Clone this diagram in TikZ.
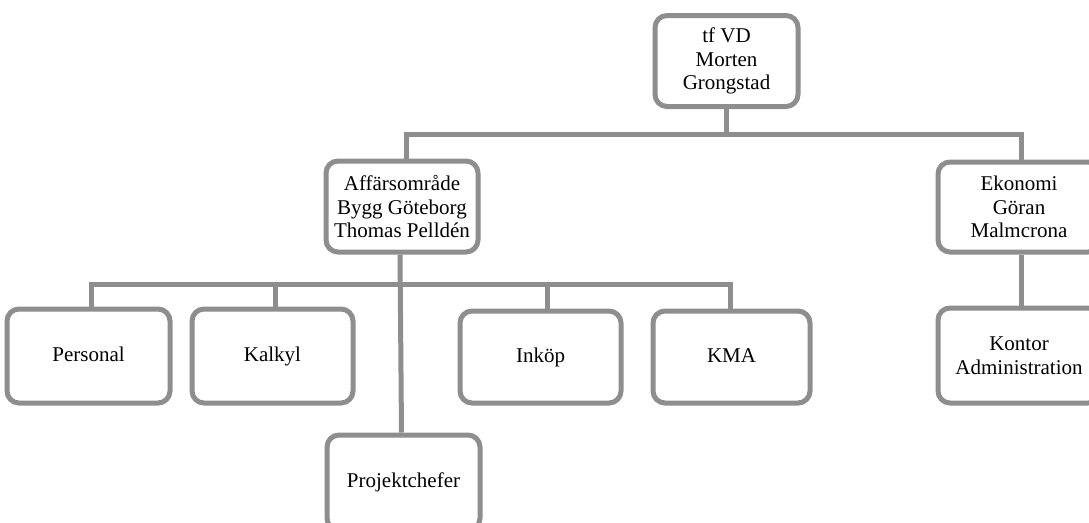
\documentclass[tikz,border=0pt]{standalone}
\usepackage{fontspec}
\setmainfont{Liberation Serif}
\usetikzlibrary{calc}
\definecolor{linegray}{RGB}{142,142,142}
\tikzset{
  orgbox/.style={draw=linegray, fill=white, line width=3.75pt, rounded corners=9pt,
    align=center, inner sep=2pt, font=\fontsize{15.75}{17.6}\selectfont},
  oneline/.style={orgbox, text height=11pt, text depth=3.5pt},
  link/.style={draw=linegray, line width=3.75pt, line join=miter},
}
\begin{document}
\begin{tikzpicture}[x=0.75pt, y=-0.75pt]
\useasboundingbox (0,0) rectangle (1089,522);
% boxes
\node[orgbox, minimum width=143*0.75pt, minimum height=91*0.75pt] (vd) at (726.5,61) {tf VD\\Morten\\Grongstad};
\node[orgbox, minimum width=152*0.75pt, minimum height=91*0.75pt] (aff) at (402,206.5) {Affärsområde\\Bygg Göteborg\\Thomas Pelldén};
\node[orgbox, minimum width=162*0.75pt, minimum height=90*0.75pt] (eko) at (1019,207) {Ekonomi\\Göran\\Malmcrona};
\node[orgbox, minimum width=162*0.75pt, minimum height=95*0.75pt] (kontor) at (1019,355.5) {Kontor\\Administration};
\node[oneline, minimum width=163*0.75pt, minimum height=94*0.75pt] (personal) at (88.5,356) {Personal};
\node[oneline, minimum width=161*0.75pt, minimum height=94*0.75pt] (kalkyl) at (272.5,356) {Kalkyl};
\node[oneline, minimum width=161*0.75pt, minimum height=92*0.75pt] (inkop) at (540.5,357) {Inköp};
\node[oneline, minimum width=157*0.75pt, minimum height=92*0.75pt] (kma) at (731.5,357) {KMA};
\node[oneline, minimum width=153*0.75pt, minimum height=95*0.75pt] (proj) at (403.5,482.5) {Projektchefer};
% bus levels
\coordinate (busA) at (0,134);
\coordinate (busB) at (0,284);
% top level
\draw[link] (vd.south) -- (vd.south |- busA);
\draw[link] ([xshift=3pt]aff.north) -- ([xshift=3pt]aff.north |- busA)
  -- ([xshift=1.5pt]eko.north |- busA) -- ([xshift=1.5pt]eko.north);
\draw[link] ([xshift=1.5pt]eko.south) -- ([xshift=1.5pt]kontor.north);
% second level
\draw[link] ([xshift=-1.5pt]aff.south) -- ([xshift=-1.5pt]proj.north);
\draw[link] ([xshift=1.9pt]personal.north) -- ([xshift=1.9pt]personal.north |- busB)
  -- ([xshift=-0.4pt]kma.north |- busB) -- ([xshift=-0.4pt]kma.north);
\draw[link] ([xshift=1.9pt]kalkyl.north) -- ([xshift=1.9pt]kalkyl.north |- busB);
\draw[link] ([xshift=4.9pt]inkop.north) -- ([xshift=4.9pt]inkop.north |- busB);
\end{tikzpicture}
\end{document}
